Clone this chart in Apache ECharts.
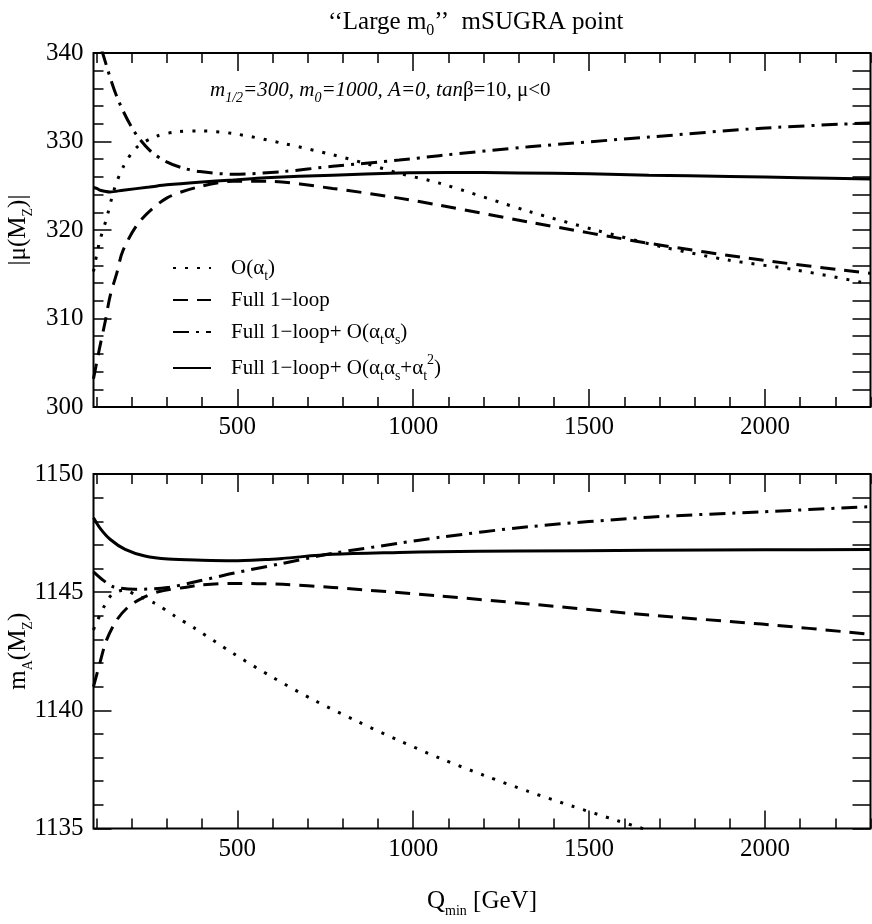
<!DOCTYPE html>
<html>
<head>
<meta charset="utf-8">
<script src="https://cdn.jsdelivr.net/npm/echarts@6/dist/echarts.min.js"></script>
<style>
  html, body { margin: 0; background: #fff; }
  #chart { width: 872px; height: 924px; }
</style>
</head>
<body>
<div id="chart"></div>
<script>
// x range (Q_min in GeV) and tick positions
const qMin = 91;
const qMax = 2300;
const xMajorTicks = [500, 1000, 1500, 2000];
const xMinorTicks = [100, 200, 300, 400, 500, 600, 700, 800, 900, 1000, 1100, 1200,
  1300, 1400, 1500, 1600, 1700, 1800, 1900, 2000, 2100, 2200, 2300];

// top panel: |mu(MZ)|
const muAtQ = [91, 100, 109, 128, 150, 175, 213, 270, 330, 393, 488, 629, 771, 866, 960, 1074, 1329, 1518, 1707, 1896, 2086, 2300];
const muAtV = [315.3, 317.2, 318.8, 321.3, 324.6, 327.1, 329.3, 330.6, 331.1, 331.2, 330.9, 329.8, 328.5, 327.5, 326.4, 325.3, 322.1, 320.0, 318.1, 316.6, 315.5, 313.9];

const muFullQ = [91, 100, 109, 124, 138, 157, 175, 223, 299, 393, 488, 582, 771, 960, 1074, 1329, 1670, 1991, 2300];
const muFullV = [303.2, 305.0, 306.8, 309.6, 312.5, 315.1, 317.7, 321.0, 323.6, 324.9, 325.5, 325.5, 324.7, 323.6, 322.8, 320.9, 318.5, 316.6, 315.1];

const muFullAsQ = [91, 100, 117, 157, 204, 251, 299, 345, 393, 488, 629, 771, 960, 1074, 1329, 1670, 1991, 2300];
const muFullAsV = [344.0, 342.5, 340.0, 335.1, 331.3, 329.0, 327.7, 327.0, 326.6, 326.3, 326.6, 327.2, 327.9, 328.4, 329.4, 330.5, 331.5, 332.1];

const muFullAs2Q = [91, 100, 110, 138, 175, 250, 299, 390, 488, 580, 771, 960, 1100, 1300, 1500, 1670, 1900, 2100, 2300];
const muFullAs2V = [324.8, 324.7, 324.5, 324.3, 324.5, 324.85, 325.1, 325.4, 325.65, 325.9, 326.2, 326.45, 326.5, 326.45, 326.35, 326.2, 326.05, 325.9, 325.75];

// bottom panel: mA(MZ)
const mAAtQ = [91, 95, 123, 142, 165, 180, 209, 265, 322, 379, 488, 601, 718, 837, 957, 1078, 1203, 1327, 1453, 1579, 1643, 1720];
const mAAtV = [1143.4, 1143.56, 1144.45, 1144.88, 1145.05, 1145.09, 1144.9, 1144.53, 1143.99, 1143.47, 1142.41, 1141.39, 1140.43, 1139.56, 1138.74, 1137.96, 1137.24, 1136.57, 1135.94, 1135.34, 1135.04, 1134.7];

const mAFullQ = [91, 109, 128, 157, 190, 228, 275, 350, 393, 488, 629, 771, 1074, 1329, 1670, 1991, 2300];
const mAFullV = [1141.0, 1142.0, 1142.97, 1143.82, 1144.38, 1144.74, 1145.02, 1145.2, 1145.3, 1145.37, 1145.33, 1145.2, 1144.84, 1144.5, 1144.03, 1143.65, 1143.22];

const mAFullAsQ = [91, 119, 147, 209, 302, 393, 488, 629, 771, 960, 1074, 1329, 1670, 1991, 2300];
const mAFullAsV = [1145.86, 1145.5, 1145.23, 1145.12, 1145.2, 1145.48, 1145.8, 1146.22, 1146.64, 1147.07, 1147.32, 1147.77, 1148.17, 1148.4, 1148.62];

const mAFullAs2Q = [91, 110, 138, 181, 237, 303, 400, 488, 580, 629, 771, 960, 1074, 1300, 1670, 2000, 2300];
const mAFullAs2V = [1148.15, 1147.7, 1147.24, 1146.81, 1146.53, 1146.4, 1146.35, 1146.33, 1146.38, 1146.43, 1146.6, 1146.68, 1146.71, 1146.74, 1146.77, 1146.79, 1146.81];

const seriesNames = ['at', 'full', 'fullAs', 'fullAs2'];
const legendLabels = {
  at: '{g| }O(α{s|t})',
  full: '{g| }Full 1−loop',
  fullAs: '{g| }Full 1−loop+ O(α{s|t}α{s|s})',
  fullAs2: '{g| }Full 1−loop+ O(α{s|t}α{s|s}+α{s|t}{p|2})'
};
const dashes = {
  at: [3, 9],
  full: [15, 9],
  fullAs: [16, 7, 3, 7],
  fullAs2: 'solid'
};

const FONT = 'Liberation Serif';
const subRich = {
  g: { width: 15 },
  s: { fontSize: 14, lineHeight: 14, verticalAlign: 'bottom', fontFamily: FONT, color: '#000' },
  p: { fontSize: 14, lineHeight: 14, verticalAlign: 'top', fontFamily: FONT, color: '#000' }
};

const zip = (qs, vs) => qs.map((q, i) => [q, vs[i]]);
const plain = (v) => String(v);

// four x axes per grid: bottom/top, major/minor ticks
function xAxes(gi, withLabels, name) {
  const base = {
    type: 'value', gridIndex: gi, min: qMin, max: qMax,
    axisLine: { show: false }, splitLine: { show: false }
  };
  const tick = (vals, len) => ({ show: true, inside: true, length: len, customValues: vals,
    lineStyle: { color: '#000', width: 1.5 } });
  const bottomMajor = Object.assign({}, base, {
    position: 'bottom', axisTick: tick(xMajorTicks, 18),
    axisLabel: withLabels ? { show: true, customValues: xMajorTicks, formatter: plain, fontFamily: FONT, fontSize: 25, color: '#000', margin: 8 } : { show: false }
  });
  if (name) {
    Object.assign(bottomMajor, {
      name: name, nameLocation: 'middle', nameGap: 56, nameMoveOverlap: false,
      nameTextStyle: { fontFamily: FONT, fontSize: 25, color: '#000', lineHeight: 34, rich: subRich }
    });
  }
  return [
    bottomMajor,
    Object.assign({}, base, { position: 'bottom', axisTick: tick(xMinorTicks, 10), axisLabel: { show: false } }),
    Object.assign({}, base, { position: 'top', axisTick: tick(xMajorTicks, 18), axisLabel: { show: false } }),
    Object.assign({}, base, { position: 'top', axisTick: tick(xMinorTicks, 10), axisLabel: { show: false } })
  ];
}

function yAxes(gi, min, max, interval, minorSplit, name) {
  const base = {
    type: 'value', gridIndex: gi, min: min, max: max, interval: interval,
    axisLine: { show: false }, splitLine: { show: false },
    axisTick: { show: true, inside: true, length: 18, lineStyle: { color: '#000', width: 1.5 } }
  };
  return [
    Object.assign({}, base, {
      position: 'left',
      minorTick: { show: true, splitNumber: minorSplit, length: 10, lineStyle: { color: '#000', width: 1.5 } },
      axisLabel: { formatter: plain, fontFamily: FONT, fontSize: 25, color: '#000', margin: 10 },
      name: name, nameLocation: 'middle', nameGap: 58, nameRotate: 90, nameMoveOverlap: false,
      nameTextStyle: { fontFamily: FONT, fontSize: 25, color: '#000', lineHeight: 34, rich: subRich }
    }),
    Object.assign({}, base, {
      position: 'right',
      minorTick: { show: true, splitNumber: minorSplit, length: 18, lineStyle: { color: '#000', width: 1.5 } },
      axisLabel: { show: false }
    })
  ];
}

function line(name, qs, vs, gi) {
  return {
    type: 'line', name: name, xAxisIndex: gi * 4, yAxisIndex: gi * 2,
    data: zip(qs, vs), symbol: 'none', showSymbol: false, smooth: 0.3, clip: true,
    lineStyle: { color: '#000', width: 3, type: dashes[name] },
    itemStyle: { color: '#000' }
  };
}

const legendTops = [253, 285, 317, 353];
const legends = seriesNames.map((n, i) => ({
  data: [n], orient: 'vertical', left: 172, top: legendTops[i], padding: 0,
  itemWidth: 38, itemHeight: 14, selectedMode: false,
  itemStyle: { opacity: 0 },
  formatter: (nm) => legendLabels[nm],
  textStyle: { fontFamily: FONT, fontSize: 21, color: '#000', lineHeight: 30, rich: subRich }
}));

const gridBase = { left: 93.5, width: 777, show: true, borderColor: '#000', borderWidth: 2,
  backgroundColor: 'transparent', containLabel: false, outerBoundsMode: 'none' };

const chart = echarts.init(document.getElementById('chart'), null, { renderer: 'canvas' });
chart.setOption({
  backgroundColor: '#fff',
  animation: false,
  title: {
    text: '‘‘Large m{s|0}’’  mSUGRA point',
    left: 323, top: 0,
    textStyle: { fontFamily: FONT, fontSize: 25, fontWeight: 'normal', color: '#000', lineHeight: 34,
      rich: { s: { fontSize: 16, lineHeight: 16, verticalAlign: 'bottom', fontFamily: FONT, color: '#000' } } }
  },
  grid: [
    Object.assign({}, gridBase, { top: 53, height: 354 }),
    Object.assign({}, gridBase, { top: 474, height: 354.5 })
  ],
  xAxis: xAxes(0, true).concat(xAxes(1, true, 'Q{s|min} [GeV]')),
  yAxis: yAxes(0, 300, 340, 10, 5, '|μ(M{s|Z})|').concat(yAxes(1, 1135, 1150, 5, 5, 'm{s|A}(M{s|Z})')),
  legend: legends,
  graphic: [{
    type: 'text', left: 210, top: 80, silent: true,
    style: {
      text: '{i|m}{is|1/2}{i|=300, m}{is|0}{i|=1000, A=0, tan}{n|β=10, μ<0}',
      fill: '#000',
      rich: {
        i: { fontFamily: FONT, fontStyle: 'italic', fontSize: 21, lineHeight: 30, fill: '#000' },
        is: { fontFamily: FONT, fontStyle: 'italic', fontSize: 14, lineHeight: 14, verticalAlign: 'bottom', fill: '#000' },
        n: { fontFamily: FONT, fontSize: 21, lineHeight: 30, fill: '#000' }
      }
    }
  }],
  series: [
    line('at', muAtQ, muAtV, 0),
    line('full', muFullQ, muFullV, 0),
    line('fullAs', muFullAsQ, muFullAsV, 0),
    line('fullAs2', muFullAs2Q, muFullAs2V, 0),
    line('at', mAAtQ, mAAtV, 1),
    line('full', mAFullQ, mAFullV, 1),
    line('fullAs', mAFullAsQ, mAFullAsV, 1),
    line('fullAs2', mAFullAs2Q, mAFullAs2V, 1)
  ]
});
</script>
</body>
</html>
